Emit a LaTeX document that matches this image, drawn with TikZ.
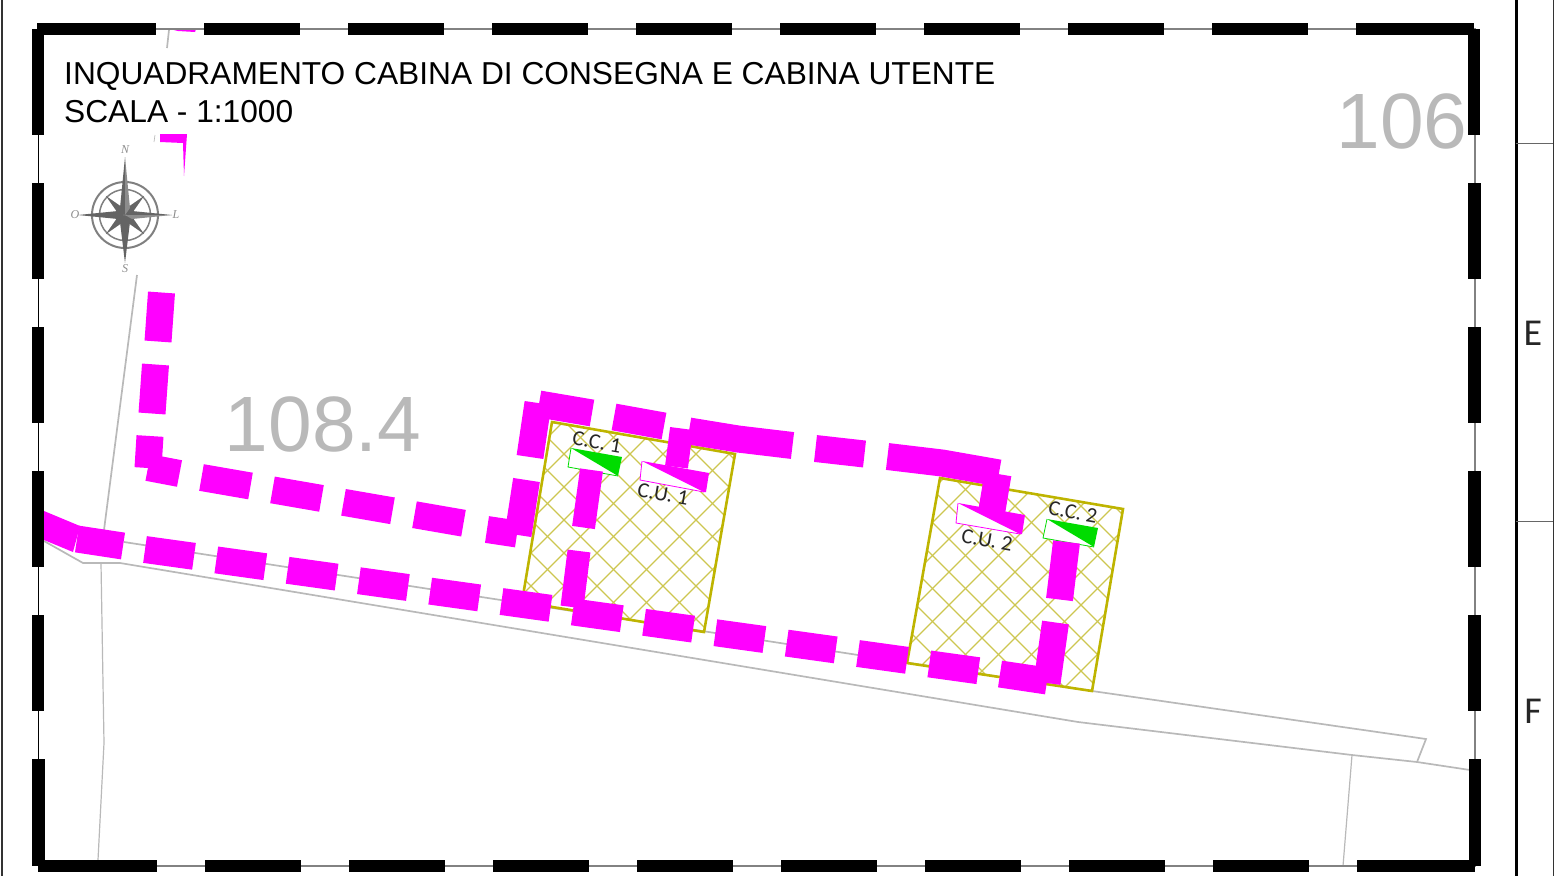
\documentclass[tikz,border=0pt]{standalone}
\usepackage{fontspec}
\setmainfont{Liberation Sans}
\newfontfamily\labelfont{Carlito}
\newfontfamily\rosefont{Liberation Serif}
\definecolor{cavo}{RGB}{255,0,255}
\definecolor{recinto}{RGB}{190,180,0}
\definecolor{tratteggio}{RGB}{205,198,80}
\definecolor{verde}{RGB}{0,220,0}
\definecolor{strada}{RGB}{185,185,185}
\definecolor{ombra}{RGB}{100,100,100}
\tikzset{
  cavodash/.style={draw=cavo,line width=27pt},
  cavothin/.style={draw=cavo,line width=23pt},
  roadline/.style={draw=strada,line width=1.7pt},
  framedash/.style={draw=black,line width=12.5pt},
  cablabel/.style={font=\labelfont\fontsize{21.5}{21.5}\selectfont,rotate=-10,text=black!85,inner sep=0pt},
  sheetletter/.style={font=\labelfont\fontsize{38}{38}\selectfont,text=black!85},
  bignum/.style={font=\fontsize{78.5}{78.5}\selectfont,text=strada},
  titolo/.style={font=\fontsize{31.7}{31.7}\selectfont,anchor=west,inner sep=0pt},
  cardinal/.style={font=\rosefont\fontsize{12}{12}\selectfont\itshape,text=black!45,inner sep=0pt}
}
\newcommand{\hatchzone}[4]{%
  \foreach \k in {-7,...,7} {
    \draw[tratteggio,line width=1.3pt] (#3,{#1+33*\k-#3}) -- (#4,{#1+33*\k-#4});
    \draw[tratteggio,line width=1.3pt] (#3,{#3-#2-33*\k}) -- (#4,{#4-#2-33*\k});
  }}
\begin{document}
\begin{tikzpicture}[x=1pt,y=-1pt]
\useasboundingbox (0,0) rectangle (1558,876);
% sheet margins
\draw[black!80,line width=1.2pt] (2,0) -- (2,876);
\draw[black,line width=3pt] (1516,0) -- (1516,876);
\draw[black!80,line width=1pt] (1553,0) -- (1553,876);
\draw[black!60,line width=1pt] (1516,143) -- (1553,143) (1516,521) -- (1553,521);
\node[sheetletter] (E) at (1533,333) {E};
\node[sheetletter] (F) at (1533,711) {F};

% road and parcels
\draw[roadline] (44,541) -- (83,563) -- (120,563) -- (1078,722) -- (1352,755) -- (1417,762) -- (1470,770);
\draw[roadline] (124,542) -- (1092,691) -- (1426,739) -- (1417,762);
\draw[roadline] (137,275) -- (104,530);
\draw[roadline] (169,30) -- (167,48);
\draw[roadline,line width=1.2pt] (101,563) -- (104,743) -- (98,860);
\draw[roadline,line width=1.2pt] (1352,755) -- (1343,866);

% fenced areas
\begin{scope}
  \clip (552,422) -- (735,454) -- (704,632) -- (522,602) -- cycle;
  \hatchzone{1150}{110}{480}{780}
\end{scope}
\draw[recinto,line width=2.6pt] (552,422) -- (735,454) -- (704,632) -- (522,602) -- cycle;
\begin{scope}
  \clip (940,478) -- (1123,509) -- (1092,691) -- (907,663) -- cycle;
  \hatchzone{1587}{443}{860}{1170}
\end{scope}
\draw[recinto,line width=2.6pt] (940,478) -- (1123,509) -- (1092,691) -- (907,663) -- cycle;

% cabins
\fill[white] (571,448) -- (622,457) -- (618,476) -- (568,467) -- cycle;
\draw[verde,line width=.8pt] (571,448) -- (568,467) -- (618,476);
\fill[verde] (571,448) -- (622,457) -- (618,476) -- cycle;
\fill[white] (1047,519) -- (1098,528) -- (1094,547) -- (1043,538) -- cycle;
\draw[verde,line width=.8pt] (1047,519) -- (1043,538) -- (1094,547);
\fill[verde] (1047,519) -- (1098,528) -- (1094,547) -- cycle;
\fill[white] (642,461) -- (640,480) -- (704,492) -- cycle;
\draw[cavo,line width=.8pt] (642,461) -- (640,480) -- (704,492);
\fill[cavo] (642,461) -- (709,473) -- (706,492) -- (704,492) -- cycle;
\fill[white] (958,503) -- (956,523) -- (1020,534) -- cycle;
\draw[cavo,line width=.8pt] (958,503) -- (956,523) -- (1020,534);
\fill[cavo] (958,503) -- (1025,515) -- (1022,534) -- (1020,534) -- cycle;

% cable route along the road
\fill[cavo] (44,511) -- (80,526) -- (73,552) -- (44,540) -- cycle;
\draw[cavodash] (77,539) -- (123,546);
\foreach \k in {0,...,11}
  \draw[cavodash] ({145+71.3*\k},{549.5+10.4*\k}) -- ({194+71.3*\k},{556.3+10.4*\k});
\draw[cavodash] (1000,674) -- (1047,681);
% cable route from the north
\draw[cavodash] (161.5,292.5) -- (158,341.5);
\draw[cavodash] (155.5,364.5) -- (152,413.5);
\draw[cavodash] (150,436) -- (148,468);
\draw[cavodash] (148,467.5) -- (179.5,473.5);
\foreach \k in {0,...,3}
  \draw[cavodash] ({201.5+71*\k},{477.5+12.4*\k}) -- ({250.5+71*\k},{486+12.4*\k});
\draw[cavodash] (487,529.5) -- (517,534);
\draw[cavodash] (526.5,480) -- (518,535);
% upper route between the cabins
\draw[cavodash] (530,457) -- (538,403);
\draw[cavodash] (539,404) -- (592,413);
\draw[cavodash] (614,417) -- (664,426);
\draw[cavodash] (689,431) -- (738,439) -- (792.5,445.5);
\draw[cavodash] (815.5,448.5) -- (864.5,454);
\draw[cavodash] (887.5,456.5) -- (942,463) -- (999,473);
% branches to the cabins
\draw[cavothin] (681.5,428.5) -- (676.5,467);
\draw[cavodash] (998,474) -- (992,510);
\draw[cavothin] (591.5,470) -- (583.5,527.5);
\draw[cavothin] (579,551) -- (572,607);
\draw[cavodash] (1066.5,542) -- (1059.5,599.5);
\draw[cavodash] (1055.5,622.5) -- (1047,683);
% cut-off piece at the top
\fill[cavo] (170,29) -- (196,29) -- (195,32) -- (178,31) -- cycle;
\fill[cavo] (160,134) -- (187,134) -- (184,176) -- (183,143) -- (160,142) -- cycle;
\draw[strada,line width=.7pt] (155,135) -- (154,142);

% cabin labels
\node[cablabel] (cc1) at (597,442) {C.C. 1};
\node[cablabel] (cu1) at (663,494) {C.U. 1};
\node[cablabel] (cc2) at (1073,512) {C.C. 2};
\node[cablabel] (cu2) at (987,540) {C.U. 2};

% parcel numbers
\node[bignum] (p1084) at (323,424) {108.4};
\node[bignum] (p106) at (1402,121) {106};

% frame
\draw[strada!70!black,line width=1.2pt] (38,29) -- (1475,29) -- (1475,866) -- (38,866);
\draw[black,line width=1pt] (38,866) -- (38,29);
\draw[framedash] (37,29) -- (156,29);
\foreach \a in {204,348,...,1212}
  \draw[framedash] (\a,29) -- (\a+96,29);
\draw[framedash] (1356,29) -- (1474,29);
\draw[framedash] (38,866) -- (157,866);
\foreach \a in {205,349,...,1213}
  \draw[framedash] (\a,866) -- (\a+96,866);
\draw[framedash] (1357,866) -- (1475,866);
\draw[framedash] (38,29) -- (38,135);
\draw[framedash] (1474,29) -- (1474,135);
\foreach \a in {183,327,...,615} {
  \draw[framedash] (38,\a) -- (38,\a+96);
  \draw[framedash] (1474.5,\a) -- (1474.5,\a+96);
}
\draw[framedash] (38.5,759) -- (38.5,866);
\draw[framedash] (1475,759) -- (1475,866);

% title
\node[titolo] (title) at (64,76) {INQUADRAMENTO CABINA DI CONSEGNA E CABINA UTENTE};
\node[titolo] (scale) at (64,112) {SCALA - 1:1000};

% compass rose
\draw[black!50,line width=2pt] (125,215) circle (33);
\draw[black!50,line width=1.5pt] (125,215) circle (25.5);
\foreach \r in {45,135,225,315}
  \fill[ombra,shift={(125,215)}] (0,0) -- (\r+22:9) -- (\r:27) -- (\r-22:9) -- cycle;
\fill[ombra] (125,157) -- (120,208) -- (125,215) -- cycle;
\fill[black!45] (125,157) -- (130,208) -- (125,215) -- cycle;
\fill[ombra] (125,263) -- (120,222) -- (125,215) -- (130,222) -- cycle;
\fill[ombra] (78,215) -- (118,211) -- (125,215) -- (118,219) -- cycle;
\fill[ombra] (172,215) -- (132,211) -- (125,215) -- cycle;
\fill[black!45] (172,215) -- (132,219) -- (125,215) -- cycle;
\node[cardinal] (north) at (125,150) {N};
\node[cardinal] (south) at (125,269) {S};
\node[cardinal] (west) at (75,215) {O};
\node[cardinal] (east) at (176,215) {L};
\end{tikzpicture}
\end{document}
